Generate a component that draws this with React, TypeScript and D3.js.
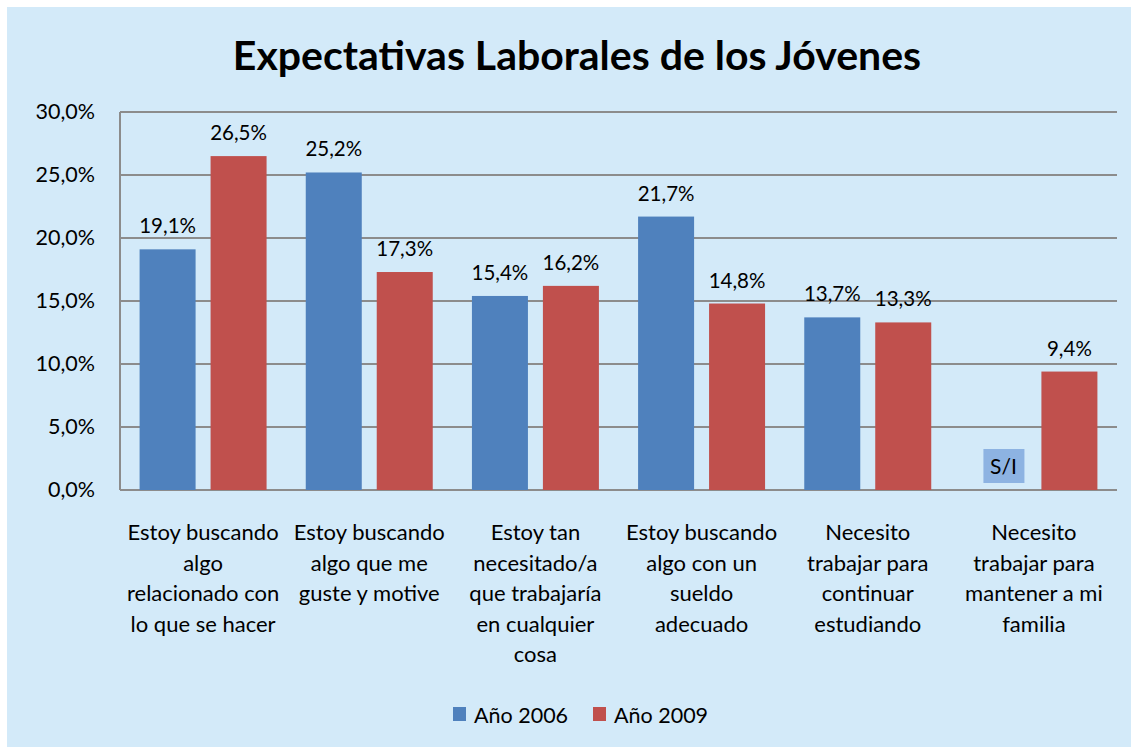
import React from "react";
import * as d3 from "d3";

const categories: string[][] = [
  ["Estoy buscando", "algo", "relacionado con", "lo que se hacer"],
  ["Estoy buscando", "algo que me", "guste y motive"],
  ["Estoy tan", "necesitado/a", "que trabajaría", "en cualquier", "cosa"],
  ["Estoy buscando", "algo con un", "sueldo", "adecuado"],
  ["Necesito", "trabajar para", "continuar", "estudiando"],
  ["Necesito", "trabajar para", "mantener a mi", "familia"],
];
const series2006: (number | null)[] = [19.1, 25.2, 15.4, 21.7, 13.7, null];
const series2009: number[] = [26.5, 17.3, 16.2, 14.8, 13.3, 9.4];
const seriesNames = ["Año 2006", "Año 2009"];
const yTicks = [0, 5, 10, 15, 20, 25, 30];

const W = 1131;
const H = 747;
const FONT = "Lato, 'Open Sans', sans-serif";
const BLUE = "#4F81BD";
const RED = "#C0504D";

const fmt = (v: number) => v.toFixed(1).replace(".", ",") + "%";

export default function App() {
  const left = 120, right = 1117, top = 112, bottom = 490;
  const x0 = d3.scaleBand<number>().domain(d3.range(categories.length)).range([left, right]).paddingInner(0).paddingOuter(0);
  const bw = x0.bandwidth();
  const x1 = d3.scaleBand<number>().domain([0, 1]).range([0, bw]).paddingInner(0.211).paddingOuter(0.276);
  const y = d3.scaleLinear().domain([0, 30]).range([bottom, top]);
  const data = [series2006, series2009];
  const colors = [BLUE, RED];

  return (
    <svg width={W} height={H} style={{ position: "absolute", left: 0, top: 0 }} fontFamily={FONT}>
      <rect x={0} y={0} width={W} height={H} fill="#fff" />
      <rect x={7} y={7} width={W - 7} height={H - 7} fill="#D3EAF9" />
      <text x={577} y={70} textAnchor="middle" fontSize={41} fontWeight="bold" fill="#000">
        Expectativas Laborales de los Jóvenes
      </text>
      {yTicks.map((t) => (
        <g key={t}>
          <line x1={left} x2={right} y1={y(t)} y2={y(t)} stroke="#8C8C8C" strokeWidth={2} />
          <text x={95} y={y(t) + 7} textAnchor="end" fontSize={21.5} fill="#000">
            {fmt(t)}
          </text>
        </g>
      ))}
      <line x1={left} x2={left} y1={top} y2={bottom} stroke="#8C8C8C" strokeWidth={2} />
      {categories.map((c, i) => (
        <g key={i}>
          {data.map((s, j) => {
            const v = s[i];
            const bx = (x0(i) as number) + (x1(j) as number);
            const w = x1.bandwidth();
            if (v == null) {
              const cx = bx + w / 2 + 5;
              return (
                <g key={j}>
                  <rect x={cx - 20} y={449} width={41} height={34} fill="#8DB3E2" />
                  <text x={cx} y={474} textAnchor="middle" fontSize={21} fill="#000">S/I</text>
                </g>
              );
            }
            return (
              <g key={j}>
                <rect x={bx} y={y(v)} width={w} height={bottom - y(v)} fill={colors[j]} />
                <text x={bx + w / 2} y={y(v) - 16} textAnchor="middle" fontSize={20.5} fill="#000">
                  {fmt(v)}
                </text>
              </g>
            );
          })}
          {c.map((line, k) => (
            <text key={k} x={(x0(i) as number) + bw / 2} y={540 + k * 30.6} textAnchor="middle" fontSize={22} fill="#000">
              {line}
            </text>
          ))}
        </g>
      ))}
      {seriesNames.map((n, j) => (
        <g key={n} transform={`translate(${453 + j * 140},0)`}>
          <rect x={0} y={707} width={13} height={14} fill={colors[j]} />
          <text x={21} y={723} fontSize={21.5} fill="#000">{n}</text>
        </g>
      ))}
    </svg>
  );
}
